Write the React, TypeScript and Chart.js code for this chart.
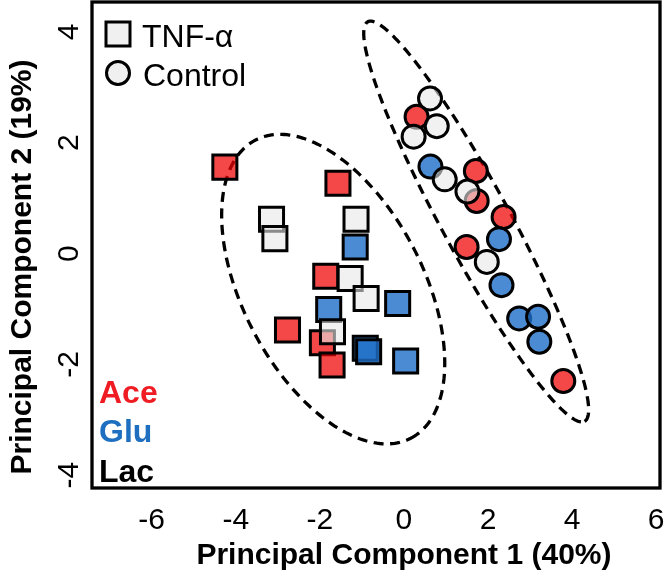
import { useEffect, useRef } from "react";
import { Chart, registerables } from "chart.js";

Chart.register(...registerables);

// ---- Data ----
const xTickValues = [-6, -4, -2, 0, 2, 4, 6];
const yTickValues = [-4, -2, 0, 2, 4];
const xRange = [-7.42, 6.09];
const yRange = [-4.23, 4.54];

const xTitle = "Principal Component 1 (40%)";
const yTitle = "Principal Component 2 (19%)";
const conditionLabels = ["TNF-α", "Control"];
const groupLabels = ["Ace", "Glu", "Lac"];

// TNF-α (squares)
const aceTnfX = [-4.26, -1.57, -1.86, -2.77, -1.94, -1.71];
const aceTnfY = [1.56, 1.27, -0.41, -1.38, -1.61, -2.01];
const gluTnfX = [-1.16, -0.15, -1.79, -0.92, -0.84, 0.04];
const gluTnfY = [0.12, -0.9, -1.01, -1.71, -1.77, -1.94];
const lacTnfX = [-3.15, -3.07, -1.14, -1.28, -0.9, -1.7];
const lacTnfY = [0.62, 0.27, 0.62, -0.45, -0.81, -1.41];

// Control (circles)
const aceCtrlX = [0.3, 1.71, 1.73, 2.37, 1.49, 3.79];
const aceCtrlY = [2.47, 1.49, 0.95, 0.66, 0.12, -2.3];
const gluCtrlX = [0.63, 2.26, 2.32, 2.74, 3.19, 3.22];
const gluCtrlY = [1.57, 0.26, -0.57, -1.17, -1.14, -1.59];
const lacCtrlX = [0.62, 0.78, 0.23, 0.97, 1.51, 1.97];
const lacCtrlY = [2.8, 2.3, 2.11, 1.34, 1.12, -0.15];

// Confidence ellipses in data units: [centerX, centerY, axis1X, axis1Y, axis2X, axis2Y]
const tnfEllipse = [-1.683, -0.641, 1.845, -2.691, 1.907, 0.747];
const ctrlEllipse = [1.718, 0.578, 2.578, -3.605, 0.714, 0.292];

// ---- Styles ----
const FONT = '"Liberation Sans", Arial, Helvetica, sans-serif';
const fillColors = {
  Ace: "rgba(240, 0, 0, 0.72)",
  Glu: "rgba(30, 110, 200, 0.8)",
  Lac: "rgba(232, 232, 232, 0.6)",
};
const textColors = { Ace: "#f01c24", Glu: "#1e6fc0", Lac: "#000000" };

const zip = (xs: number[], ys: number[]) => xs.map((x, i) => ({ x, y: ys[i] }));

const overlayPlugin = {
  id: "overlay",
  beforeDatasetsDraw(chart: any) {
    const { ctx } = chart;
    const xs = chart.scales.x;
    const ys = chart.scales.y;
    const drawEllipse = (e: number[]) => {
      const [cx, cy, ux, uy, vx, vy] = e;
      ctx.save();
      ctx.beginPath();
      const n = 240;
      for (let i = 0; i <= n; i++) {
        const t = (i / n) * Math.PI * 2;
        const px = xs.getPixelForValue(cx + Math.cos(t) * ux + Math.sin(t) * vx);
        const py = ys.getPixelForValue(cy + Math.cos(t) * uy + Math.sin(t) * vy);
        if (i === 0) ctx.moveTo(px, py);
        else ctx.lineTo(px, py);
      }
      ctx.closePath();
      ctx.setLineDash([10, 6.5]);
      ctx.lineWidth = 3.3;
      ctx.strokeStyle = "#000";
      ctx.stroke();
      ctx.restore();
    };
    drawEllipse(tnfEllipse);
    drawEllipse(ctrlEllipse);
  },
  afterDraw(chart: any) {
    const { ctx, chartArea } = chart;
    const xs = chart.scales.x;
    const ys = chart.scales.y;
    const { left, right, top, bottom } = chartArea;
    ctx.save();
    // frame
    ctx.lineWidth = 3.3;
    ctx.strokeStyle = "#000";
    ctx.setLineDash([]);
    ctx.strokeRect(left, top, right - left, bottom - top);

    ctx.fillStyle = "#000";
    // x tick labels
    ctx.font = `30px ${FONT}`;
    ctx.textAlign = "center";
    ctx.textBaseline = "alphabetic";
    xTickValues.forEach((v) => {
      ctx.fillText(String(v), xs.getPixelForValue(v), bottom + 41);
    });
    // y tick labels (rotated)
    yTickValues.forEach((v) => {
      ctx.save();
      ctx.translate(left - 14, ys.getPixelForValue(v));
      ctx.rotate(-Math.PI / 2);
      ctx.fillText(String(v), 0, 0);
      ctx.restore();
    });
    // axis titles
    ctx.font = `bold 30px ${FONT}`;
    ctx.fillText(xTitle, xs.getPixelForValue(0), bottom + 76);
    ctx.save();
    ctx.translate(31, (top + bottom) / 2 + 22);
    ctx.rotate(-Math.PI / 2);
    ctx.fillText(yTitle, 0, 0);
    ctx.restore();

    // condition legend (top-left)
    ctx.lineWidth = 3;
    ctx.fillStyle = "#f0f0f0";
    ctx.strokeStyle = "#000";
    ctx.fillRect(left + 14, top + 20, 24, 24);
    ctx.strokeRect(left + 14, top + 20, 24, 24);
    ctx.beginPath();
    ctx.arc(left + 26, top + 71, 11.5, 0, Math.PI * 2);
    ctx.fill();
    ctx.stroke();
    ctx.fillStyle = "#000";
    ctx.font = `32px ${FONT}`;
    ctx.textAlign = "left";
    ctx.fillText(conditionLabels[0], left + 50, top + 44.5);
    ctx.fillText(conditionLabels[1], left + 51, top + 84);

    // group legend (bottom-left)
    ctx.font = `bold 32px ${FONT}`;
    groupLabels.forEach((g, i) => {
      ctx.fillStyle = (textColors as any)[g];
      ctx.fillText(g, left + 7, bottom - 85 + i * 39.3);
    });
    ctx.restore();
  },
};

export default function App() {
  const canvasRef = useRef<HTMLCanvasElement | null>(null);

  useEffect(() => {
    if (!canvasRef.current) return;
    const square = { pointStyle: "rect", pointRadius: 17, pointBorderWidth: 3 };
    const circle = { pointStyle: "circle", pointRadius: 11.5, pointBorderWidth: 3 };
    const mk = (label: string, data: any, fill: string, shape: any) => ({
      label,
      data,
      backgroundColor: fill,
      borderColor: "#000",
      pointBackgroundColor: fill,
      pointBorderColor: "#000",
      pointHoverRadius: shape.pointRadius,
      ...shape,
    });
    // first dataset is drawn on top
    const datasets = [
      mk("Lac TNF-α", zip(lacTnfX, lacTnfY), fillColors.Lac, square),
      mk("Lac Control", zip(lacCtrlX, lacCtrlY), fillColors.Lac, circle),
      mk("Glu TNF-α", zip(gluTnfX, gluTnfY), fillColors.Glu, square),
      mk("Glu Control", zip(gluCtrlX, gluCtrlY), fillColors.Glu, circle),
      mk("Ace TNF-α", zip(aceTnfX, aceTnfY), fillColors.Ace, square),
      mk("Ace Control", zip(aceCtrlX, aceCtrlY), fillColors.Ace, circle),
    ];
    const chart = new Chart(canvasRef.current, {
      type: "scatter",
      data: { datasets },
      options: {
        animation: false,
        responsive: false,
        maintainAspectRatio: false,
        layout: { autoPadding: false, padding: { left: 0, right: 7, top: 2, bottom: 0 } },
        plugins: { legend: { display: false }, tooltip: { enabled: false } },
        scales: {
          x: {
            type: "linear",
            min: xRange[0],
            max: xRange[1],
            ticks: { display: false, stepSize: 2 },
            grid: { display: false },
            border: { display: false },
            afterFit: (s: any) => {
              s.height = 83;
            },
          },
          y: {
            type: "linear",
            min: yRange[0],
            max: yRange[1],
            ticks: { display: false, stepSize: 2 },
            grid: { display: false },
            border: { display: false },
            afterFit: (s: any) => {
              s.width = 92;
            },
          },
        },
      } as any,
      plugins: [overlayPlugin],
    } as any);
    return () => chart.destroy();
  }, []);

  return (
    <div style={{ position: "fixed", left: 0, top: 0, width: 667, height: 571, background: "#fff" }}>
      <canvas ref={canvasRef} width={667} height={571} style={{ width: 667, height: 571 }} />
    </div>
  );
}
